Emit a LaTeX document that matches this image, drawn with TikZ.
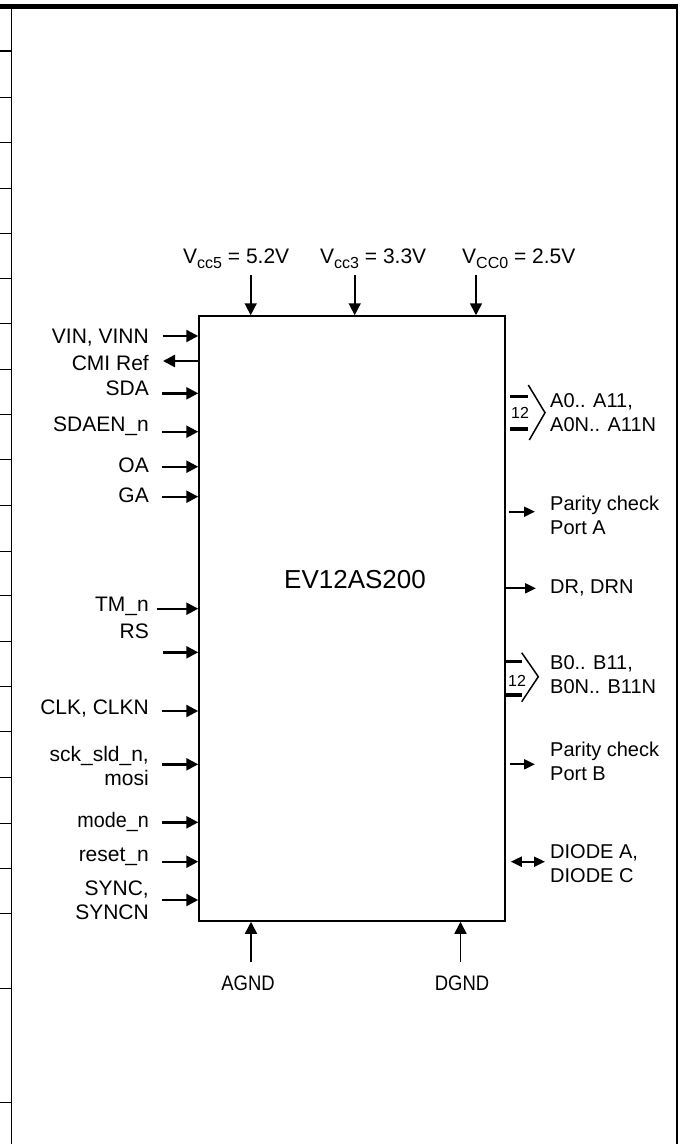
\documentclass[tikz,border=0pt]{standalone}
\usepackage{fontspec}
\setmainfont{Liberation Sans}
\usetikzlibrary{arrows.meta}

\begin{document}
\begin{tikzpicture}[x=1pt,y=-1pt,>={Triangle[length=12pt,width=12pt]},
  lab/.style={font=\fontsize{21}{24}\selectfont,inner sep=0pt,align=right,anchor=east},
  rlab/.style={font=\fontsize{20}{24}\selectfont,inner sep=0pt,align=left,anchor=west},
  vlab/.style={font=\fontsize{21}{24}\selectfont,inner sep=0pt,anchor=base west},
  pin/.style={->,line width=2.4pt},
  rpin/.style={-{Triangle[length=11pt,width=10pt]},line width=2pt},
  rail/.style={->,line width=1.6pt},
  busbar/.style={line width=3.3pt},
  buschev/.style={line width=1.5pt,line join=miter}]
\useasboundingbox (0,0) rectangle (684,1144);

% page frame
\draw[line width=5.3pt] (0,6.7) -- (677,6.7);
\draw[line width=1pt] (11.3,9) -- (11.3,1144);
\draw[line width=2pt] (677,4) -- (677,1144);
\draw[line width=2.5pt] (0,51) -- (11.3,51);
\foreach \y in {97,142,188,233,278,323,369,414,459,505,551,595,641,686,731,777,823,868,913,988,1102}
  \draw[line width=0.8pt] (0,\y) -- (11.3,\y);

% device
\node[draw,line width=1.5pt,minimum width=306pt,minimum height=605pt,inner sep=0pt] (chip) at (352,618.5) {};
\node[font=\fontsize{26}{30}\selectfont] (name) at (355,580) {EV12AS200};

% supplies
\node[vlab] (vcc5) at (183,263.3) {V\raisebox{-5pt}{\fontsize{16}{16}\selectfont cc5} = 5.2V};
\node[vlab] (vcc3) at (320,263.3) {V\raisebox{-5pt}{\fontsize{16}{16}\selectfont cc3} = 3.3V};
\node[vlab] (vcc0) at (462,263.3) {V\raisebox{-5pt}{\fontsize{16}{16}\selectfont CC0} = 2.5V};
\coordinate (vcc5-p) at (250.7,275);
\coordinate (vcc3-p) at (354.7,275);
\coordinate (vcc0-p) at (476,275);
\draw[rail] (vcc5-p) -- (vcc5-p |- chip.north);
\draw[rail] (vcc3-p) -- (vcc3-p |- chip.north);
\draw[rail] (vcc0-p) -- (vcc0-p |- chip.north);

\node[lab,anchor=center] (agnd) at (248,983) {\scalebox{0.88}[1]{AGND}};
\node[lab,anchor=center] (dgnd) at (462,983) {\scalebox{0.88}[1]{DGND}};
\coordinate (agnd-p) at (251,962);
\coordinate (dgnd-p) at (460.5,962);
\draw[rail] (agnd-p) -- (agnd-p |- chip.south);
\draw[rail] (dgnd-p) -- (dgnd-p |- chip.south);

% left side pins
\node[lab] (vin) at (149,337.7) {VIN, VINN};
\node[lab] (cmi) at (149,363.3) {CMI Ref};
\node[lab] (sda) at (149,388) {SDA};
\node[lab] (sdaen) at (149,426) {SDAEN\_n};
\node[lab] (oa) at (149,465) {OA};
\node[lab] (ga) at (149,495.7) {GA};
\node[lab] (tmn) at (149,606) {TM\_n};
\node[lab] (rs) at (149,631.7) {RS};
\node[lab] (clk) at (149,708.7) {CLK, CLKN};
\node[lab] (sck) at (149,765.5) {sck\_sld\_n,\\mosi};
\node[lab] (moden) at (149,821.7) {\scalebox{0.94}[1]{mode\_n}};
\node[lab] (resetn) at (149,856.7) {reset\_n};
\node[lab] (sync) at (149,900) {SYNC,\\SYNCN};

\coordinate (vin-p) at (162.7,336);
\coordinate (cmi-p) at (163,361);
\coordinate (sda-p) at (162,393.3);
\coordinate (sdaen-p) at (162,431.7);
\coordinate (oa-p) at (162,466.7);
\coordinate (ga-p) at (162,496.7);
\coordinate (tmn-p) at (156.7,608.7);
\coordinate (rs-p) at (162.7,652.3);
\coordinate (clk-p) at (162,711);
\coordinate (sck-p) at (162,764.3);
\coordinate (moden-p) at (162,822.3);
\coordinate (resetn-p) at (162,861.7);
\coordinate (sync-p) at (162,900);

\draw[pin] (vin-p) -- (vin-p -| chip.west);
\draw[pin] (cmi-p -| chip.west) -- (cmi-p);
\draw[pin] (sda-p) -- (sda-p -| chip.west);
\draw[pin] (sdaen-p) -- (sdaen-p -| chip.west);
\draw[pin] (oa-p) -- (oa-p -| chip.west);
\draw[pin] (ga-p) -- (ga-p -| chip.west);
\draw[pin] (tmn-p) -- (tmn-p -| chip.west);
\draw[pin] (rs-p) -- (rs-p -| chip.west);
\draw[pin] (clk-p) -- (clk-p -| chip.west);
\draw[pin] (sck-p) -- (sck-p -| chip.west);
\draw[pin] (moden-p) -- (moden-p -| chip.west);
\draw[pin] (resetn-p) -- (resetn-p -| chip.west);
\draw[pin] (sync-p) -- (sync-p -| chip.west);

% right side pins
\node[rlab] (busa) at (550,413) {A0.. A11,\\A0N.. A11N};
\node[rlab] (pa) at (550,515.7) {Parity check\\Port A};
\node[rlab] (dr) at (550,588.3) {DR, DRN};
\node[rlab] (busb) at (550,675) {B0.. B11,\\B0N.. B11N};
\node[rlab] (pb) at (550,761.7) {Parity check\\Port B};
\node[rlab] (diode) at (550,864) {DIODE A,\\DIODE C};

\coordinate (pa-p) at (535,511.7);
\coordinate (dr-p) at (536,588.3);
\coordinate (pb-p) at (535,764.3);
\coordinate (diode-p) at (545,861.7);
\draw[rpin] ([xshift=3pt]chip.east |- pa-p) -- (pa-p);
\draw[rpin] (chip.east |- dr-p) -- (dr-p);
\draw[rpin] ([xshift=4pt]chip.east |- pb-p) -- (pb-p);
\draw[rpin,{Triangle[length=11pt,width=10pt]}-{Triangle[length=11pt,width=10pt]}] ([xshift=5pt]chip.east |- diode-p) -- (diode-p);

% 12-bit buses
\draw[busbar] (510,396.7) -- (528,396.7) (510,429) -- (528,429);
\draw[buschev] (528.3,385) -- (545,412.7) -- (529.3,440);
\node[font=\fontsize{16}{16}\selectfont,inner sep=0pt] (na) at (520,412.7) {12};
\draw[busbar] (504,661.7) -- (522,661.7) (504,695) -- (522,695);
\draw[buschev] (521.7,652.7) -- (538.3,676.7) -- (521.7,701.7);
\node[font=\fontsize{16}{16}\selectfont,inner sep=0pt] (nb) at (517,680.7) {12};
\end{tikzpicture}
\end{document}
